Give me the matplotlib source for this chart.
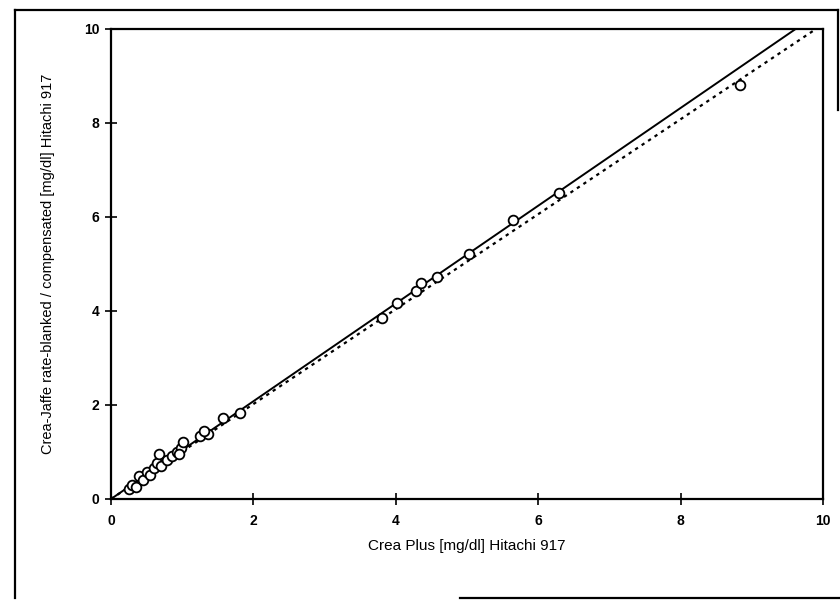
import matplotlib
matplotlib.use("Agg")
import matplotlib.pyplot as plt
from matplotlib.lines import Line2D
import numpy as np

plt.rcParams['font.family'] = ['Liberation Sans', 'DejaVu Sans']

# Data
crea_plus = [0.25, 0.30, 0.35, 0.40, 0.45, 0.50, 0.55, 0.60, 0.65, 0.70,
             0.68, 0.78, 0.85, 0.93, 0.98, 1.01, 0.95, 1.25, 1.36, 1.30,
             1.58, 1.81,
             3.80, 4.01, 4.29, 4.36, 4.58, 5.03, 5.64, 6.29, 8.84]
crea_jaffe = [0.22, 0.30, 0.26, 0.48, 0.40, 0.58, 0.52, 0.66, 0.76, 0.70,
              0.96, 0.84, 0.92, 1.01, 1.09, 1.22, 0.95, 1.33, 1.38, 1.45,
              1.72, 1.84,
              3.85, 4.17, 4.43, 4.60, 4.72, 5.21, 5.94, 6.51, 8.81]

regression_slope = 1.04
identity_slope = 1.01
line_x = [0, 10]

x_ticks = [0, 2, 4, 6, 8, 10]
y_ticks = [0, 2, 4, 6, 8, 10]

fig = plt.figure(figsize=(8.4, 6.01), dpi=100)
ax = fig.add_axes([111/840, 1-499/601, (823-111)/840, (499-29)/601])

ax.plot(line_x, [regression_slope*v for v in line_x], color='black', lw=1.4, solid_capstyle='butt')
ax.plot(line_x, [identity_slope*v for v in line_x], color='black', lw=1.6, linestyle=(0, (1.5, 2.0)))
ax.plot(crea_plus, crea_jaffe, linestyle='none', marker='o', markersize=7,
        markerfacecolor='white', markeredgecolor='black', markeredgewidth=1.3, zorder=3)

ax.set_xlim(0, 10)
ax.set_ylim(0, 10)
ax.set_xticks(x_ticks)
ax.set_yticks(y_ticks)
ax.set_xticklabels([str(t) for t in x_ticks], fontsize=10, fontweight='bold')
ax.set_yticklabels([str(t) for t in y_ticks], fontsize=10, fontweight='bold')
ax.tick_params(direction='inout', length=9, width=1.2, pad=6)
ax.tick_params(axis='y', pad=4)
for s in ax.spines.values():
    s.set_linewidth(1.6)

ax.set_xlabel('Crea Plus [mg/dl] Hitachi 917', fontsize=11, labelpad=8)
ax.set_ylabel('Crea-Jaffe rate-blanked / compensated [mg/dl] Hitachi 917', fontsize=10.5)
ax.yaxis.set_label_coords(-0.078, 0.5)

# outer scanned frame
def fline(x0, y0, x1, y1, lw=1.6):
    fig.add_artist(Line2D([x0/840, x1/840], [1-y0/601, 1-y1/601], color='black', lw=lw,
                          transform=fig.transFigure))
fline(15, 10, 838, 10)
fline(15, 10, 15, 598)
fline(838, 10, 838, 110)
fline(460, 598, 840, 598)

fig.savefig('out.png', dpi=100, facecolor='white')
